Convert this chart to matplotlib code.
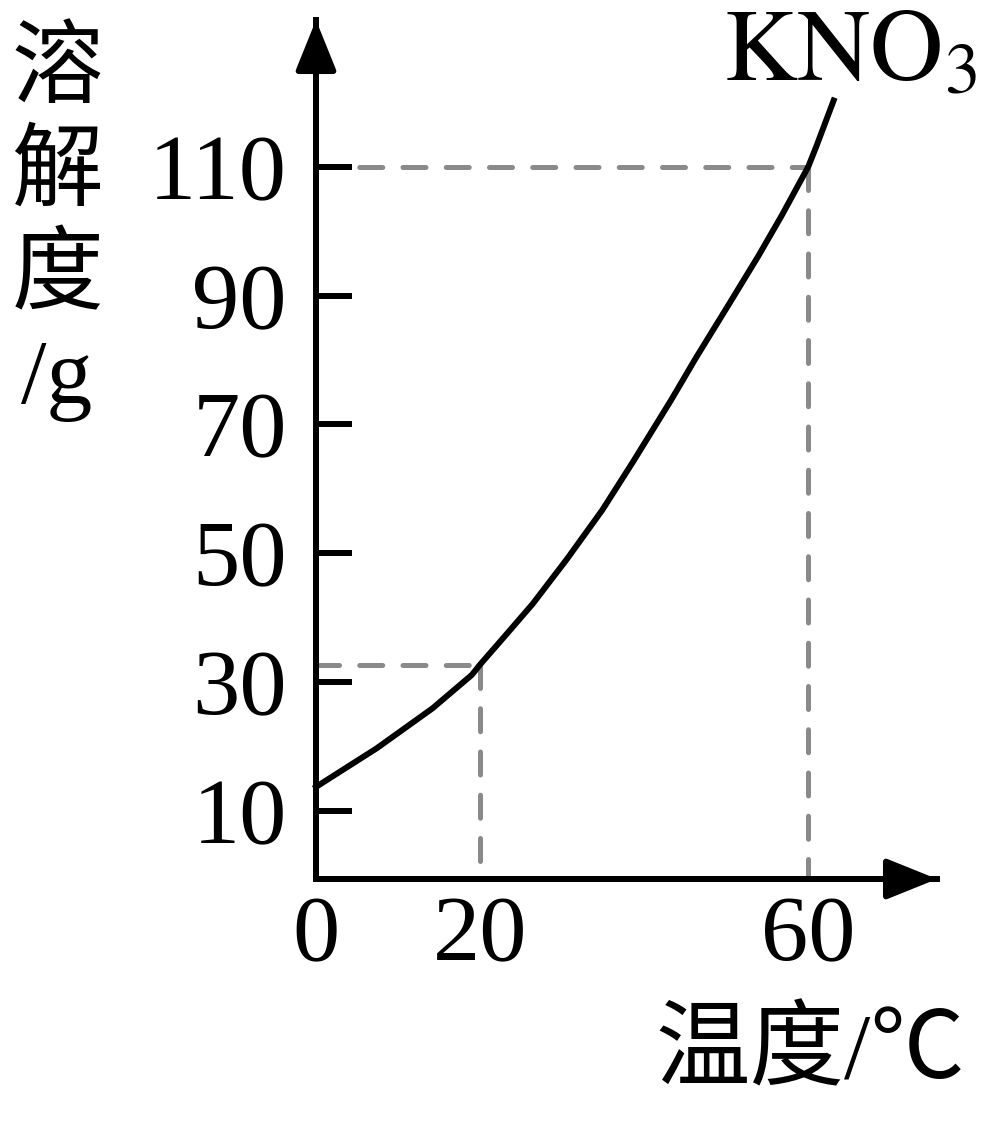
import numpy as np
import matplotlib
matplotlib.use('Agg')
import matplotlib.pyplot as plt

plt.rcParams['font.family'] = ['Liberation Serif', 'Noto Sans CJK SC', 'DejaVu Sans']
plt.rcParams['mathtext.fontset'] = 'stix'

# KNO3 溶解度曲线读数 (温度/℃, 溶解度/g)
temp = [0, 7.4, 14.2, 19.0, 20, 22.6, 26.4, 30.6, 34.9, 38.7, 43.3, 46.3, 50.5, 53.9, 56.8, 60, 61.0, 63.1]
solub = [13.7, 19.7, 25.9, 31.1, 32.7, 36.5, 42.1, 49.1, 56.7, 64.3, 73.8, 80.3, 89.0, 96.1, 102.5, 110, 113.2, 120.3]
# 虚线标注点
mark_t = [20, 60]
mark_s = [32.7, 110]
xticks = [0, 20, 60]
yticks = [10, 30, 50, 70, 90, 110]

W, H = 989, 1127
fig = plt.figure(figsize=(W / 100, H / 100), dpi=100)
ax = fig.add_axes([316 / W, 1 - 879 / H, (937 - 316) / W, (879 - 20) / H])
ax.set_xlim(0, 75.7)
ax.set_ylim(-0.6, 132.8)

for s in ['top', 'right']:
    ax.spines[s].set_visible(False)
for s in ['left', 'bottom']:
    ax.spines[s].set_linewidth(4.3)

# 坐标轴箭头
for xy in [(1, 0), (0, 1)]:
    ax.annotate('', xy=xy, xytext=(0, 0), xycoords='axes fraction', textcoords='axes fraction',
                arrowprops=dict(arrowstyle='-|>,head_length=31,head_width=12.5', mutation_scale=1,
                                lw=4.3, color='k', shrinkA=0, shrinkB=0),
                annotation_clip=False)

# 虚线
ylo = ax.get_ylim()[0]
for t, s in zip(mark_t, mark_s):
    kw = dict(color='#8a8a8a', lw=3.6, dashes=(4.6, 4.05), dash_capstyle='round',
              clip_on=False, zorder=1.5)
    ax.plot([0, t], [s, s], **kw)
    ax.plot([t, t], [s, ylo], **kw)

ax.plot(temp, solub, color='k', lw=4.3, clip_on=False, solid_joinstyle='round')

ax.set_xticks(xticks)
ax.set_xticklabels([str(v) for v in xticks])
ax.set_yticks(yticks)
ax.set_yticklabels([str(v) for v in yticks])
ax.tick_params(axis='y', direction='in', length=26, width=4.3, labelsize=68, pad=21)
ax.tick_params(axis='x', direction='in', length=0, labelsize=68, pad=12)

fig.text(723 / W, 1 - 80 / H, r'$\mathrm{KNO}_3$', fontsize=73, ha='left', va='baseline')
fig.text(57 / W, 1 - 30 / H, '溶\n解\n度\n/g', fontsize=66, ha='center', va='top', linespacing=1.28)
fig.text(965 / W, 1 - 1055 / H, '温度/℃', fontsize=68, ha='right', va='center')

fig.savefig('out.png', dpi=100)
